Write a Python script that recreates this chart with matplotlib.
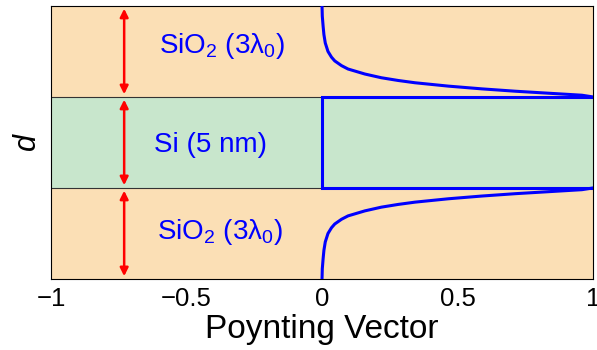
import numpy as np
import matplotlib
matplotlib.use("Agg")
import matplotlib.pyplot as plt

# layer stack, bottom to top (one unit of d per layer)
layer_names = ["SiO$_2$ (3λ$_0$)", "Si (5 nm)", "SiO$_2$ (3λ$_0$)"]
layer_colors = ["#FBDFB5", "#C8E6CC", "#FBDFB5"]
label_x = [-0.375, -0.41, -0.37]
label_base = [0.44, 1.396, 2.487]

# Poynting vector in the cladding vs. distance from the Si interface
# (in layer units)
clad_dist = [1.0, 0.889, 0.778, 0.685, 0.593, 0.50, 0.437, 0.396, 0.344,
             0.307, 0.252, 0.211, 0.181, 0.156, 0.119, 0.089, 0.063,
             0.041, 0.019, 0.0]
clad_flux = [0.0, 0.001, 0.004, 0.007, 0.012, 0.022, 0.035, 0.047, 0.072,
             0.096, 0.158, 0.219, 0.281, 0.343, 0.466, 0.589, 0.713,
             0.836, 0.959, 1.0]

# inside the Si slab
core_x = [1.0, 0.0, 0.0, 1.0]
core_y = [2.0, 2.0, 1.0, 1.0]

xticks = [-1, -0.5, 0, 0.5, 1]
xticklabels = ["\u22121", "\u22120.5", "0", "0.5", "1"]

plt.rcParams["font.family"] = ["Liberation Sans", "DejaVu Sans"]
plt.rcParams["mathtext.fontset"] = "custom"
plt.rcParams["mathtext.rm"] = "Liberation Sans"
plt.rcParams["mathtext.it"] = "Liberation Sans:italic"

fig = plt.figure(figsize=(5.97, 3.5), dpi=100)
ax = fig.add_axes([0.0854, 0.203, 0.908, 0.78])

for i, c in enumerate(layer_colors):
    ax.axhspan(i, i + 1, color=c, lw=0, zorder=0)
    ax.text(label_x[i], label_base[i], layer_names[i], color="blue",
            fontsize=20, ha="center", va="baseline")
    ax.annotate("", xy=(-0.73, i + 0.03), xytext=(-0.73, i + 0.97),
                arrowprops=dict(arrowstyle="<|-|>", color="red", lw=1.8,
                                mutation_scale=12, shrinkA=0, shrinkB=0))
ax.axhline(1, color="#333333", lw=0.8, zorder=1)
ax.axhline(2, color="#333333", lw=0.8, zorder=1)

d = np.array(clad_dist)
ax.plot(clad_flux, 2 + d, color="blue", lw=2.2, zorder=3)
ax.plot(clad_flux, 1 - d, color="blue", lw=2.2, zorder=3)
ax.plot(core_x, core_y, color="blue", lw=2.2, zorder=3,
        solid_joinstyle="miter")

ax.set_xlim(-1, 1)
ax.set_ylim(0, 3)
ax.set_yticks([])
ax.set_xticks(xticks)
ax.set_xticklabels(xticklabels, fontsize=18.5)
ax.tick_params(axis="x", length=0, pad=6)
ax.set_xlabel("Poynting Vector", fontsize=24, labelpad=2)
ax.set_ylabel("$d$", fontsize=22, labelpad=6)

plt.savefig("out.png", dpi=100)
